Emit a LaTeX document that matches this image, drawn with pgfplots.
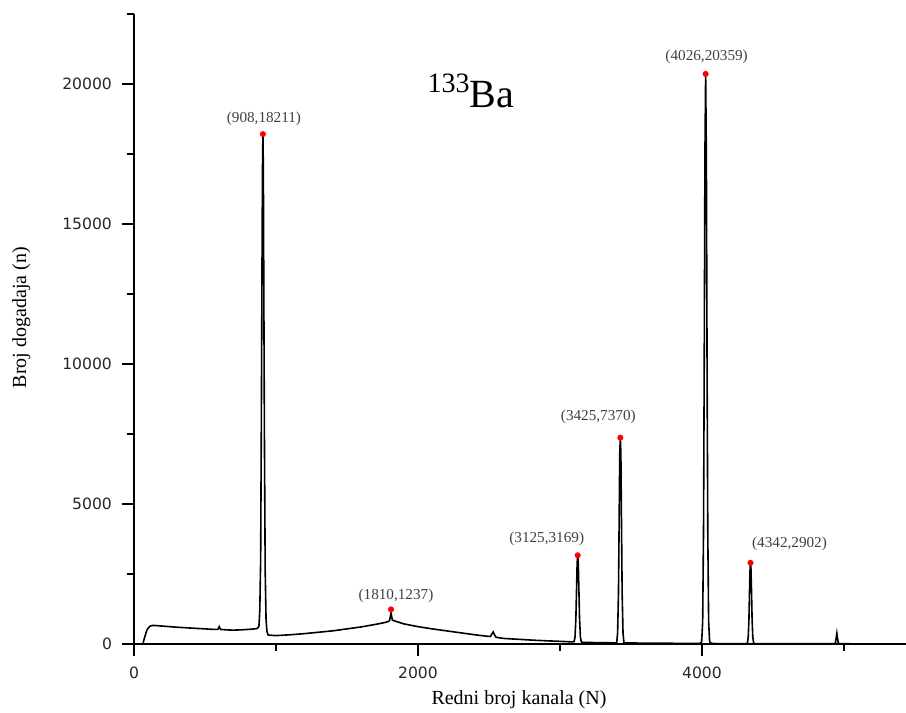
\documentclass[border=0pt]{standalone}
\usepackage{pgfplots}
\pgfplotsset{compat=1.18}
\usepackage{fontspec}
\setmainfont{Liberation Serif}
\newfontfamily\ticksf{DejaVu Sans}
\begin{document}
\begin{tikzpicture}
\useasboundingbox (-67pt,-34.5pt) rectangle (386pt,322pt);
\begin{axis}[
  scale only axis,
  width=386pt, height=315pt,
  xmin=0, xmax=5437, ymin=0, ymax=22500,
  axis lines=left,
  axis line style={-, line width=1pt},
  tick style={line width=0.9pt, black},
  tick align=outside,
  major tick length=6pt,
  minor tick length=3.5pt,
  xtick={0,2000,4000},
  minor xtick={1000,3000,5000},
  ytick={0,5000,10000,15000,20000},
  minor ytick={2500,7500,12500,17500,22500},
  scaled ticks=false,
  /pgf/number format/assume math mode=true,
  /pgf/number format/1000 sep={},
  ticklabel style={font=\ticksf\fontsize{7.8}{9}\selectfont, text=black!85},
  xticklabel style={yshift=-2pt},
  yticklabel style={xshift=-1.5pt},
  xlabel={Redni broj kanala (N)},
  ylabel={Broj dogadaja (n)},
  label style={font=\fontsize{12}{14}\selectfont},
  every axis x label/.style={at={(axis description cs:0.4987,-0.0889)}, anchor=center},
  every axis y label/.style={at={(axis description cs:-0.146,0.518)}, anchor=center, rotate=90},
  clip=false,
]
\addplot[black, line width=0.8pt] coordinates {
(63,0) (70,150) (80,320) (90,480) (100,570) (113,640) (130,660) (150,660) (200,640)
(250,620) (300,600) (350,585) (400,570) (450,555) (500,540) (550,525) (590,520)
(595,560) (600,620) (605,560) (610,520) (650,505) (700,495) (750,505) (800,520)
(850,540) (870,560) (880,640) (886,1200) (892,3000) (897,8000) (902,14000) (905,17000)
(908,18211) (911,17000) (914,13000) (919,7000) (924,2600) (930,900) (936,450) (945,320)
(1000,300) (1100,330) (1200,370) (1300,420) (1400,470) (1500,540) (1600,610)
(1700,700) (1760,760) (1790,800) (1800,840) (1810,1100) (1820,850) (1850,800)
(1900,720) (2000,620) (2100,540) (2200,470) (2300,400) (2400,330) (2480,280)
(2510,270) (2520,350) (2530,430) (2540,320) (2550,240) (2600,200) (2700,170)
(2800,140) (2900,115) (3000,95) (3090,75) (3100,90) (3106,250) (3112,900) (3117,2000)
(3121,2900) (3125,3169) (3129,2900) (3133,2000) (3138,900) (3144,250) (3150,80)
(3160,60) (3250,50) (3350,45) (3390,40) (3400,60) (3406,400) (3412,1800) (3417,4500)
(3421,6800) (3425,7370) (3429,6800) (3433,4500) (3438,1800) (3444,400) (3450,60)
(3460,40) (3600,30) (3800,25) (3985,20) (3998,80) (4005,800) (4011,4000) (4016,10000)
(4021,17500) (4026,20359) (4031,17500) (4036,10000) (4041,4000) (4047,800) (4054,80)
(4068,20) (4100,15) (4200,12) (4310,10) (4320,30) (4326,250) (4331,900) (4335,1900)
(4339,2700) (4342,2902) (4345,2700) (4349,1900) (4353,900) (4358,250) (4364,30)
(4375,10) (4600,8) (4930,10) (4940,40) (4945,200) (4950,380) (4955,200) (4960,40)
(4970,10) (5100,5)
};
\addplot[only marks, mark=*, mark size=1.3pt, red, draw=red] coordinates {
(908,18211) (1810,1237) (3125,3169) (3425,7370) (4026,20359) (4342,2902)
};
\begin{scope}[every node/.style={font=\fontsize{7.6}{9}\selectfont, text=black!75, anchor=center}]
\node[xshift=0.5pt, yshift=7.5pt] at (axis cs:908,18211) {(908,18211)};
\node[xshift=2.5pt, yshift=7pt] at (axis cs:1810,1237) {(1810,1237)};
\node[xshift=-15.5pt, yshift=8pt] at (axis cs:3125,3169) {(3125,3169)};
\node[xshift=-11pt, yshift=10.5pt] at (axis cs:3425,7370) {(3425,7370)};
\node[xshift=0.5pt, yshift=8.5pt] at (axis cs:4026,20359) {(4026,20359)};
\node[xshift=19.5pt, yshift=9.5pt] at (axis cs:4342,2902) {(4342,2902)};
\end{scope}
\node[anchor=base, inner sep=0pt] at (axis cs:2373,19143) {{\fontsize{14}{16}\selectfont\raisebox{7.5pt}{133}}{\fontsize{20}{24}\selectfont Ba}};
\end{axis}
\end{tikzpicture}
\end{document}
